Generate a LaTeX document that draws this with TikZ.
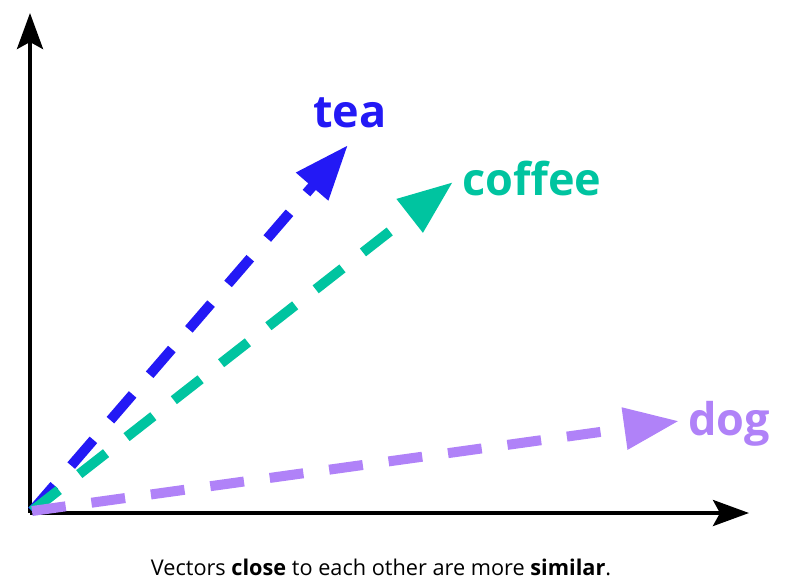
\documentclass[tikz,border=0pt]{standalone}
\usepackage{fontspec}
\setmainfont{Open Sans}
\usepackage{tikz}
\usetikzlibrary{arrows.meta,positioning}

\definecolor{teablue}{RGB}{35,25,245}
\definecolor{coffeegreen}{RGB}{0,196,160}
\definecolor{dogpurple}{RGB}{176,130,248}

\tikzset{
    axis/.style={line width=4pt,-{Stealth[length=36pt,width=26pt,inset=7pt]}},
    vec/.style={line width=10pt,dash pattern=on 34pt off 26pt,-{Triangle[length=55pt,width=40pt]}},
    word/.style={font=\fontsize{45}{54}\selectfont\bfseries,inner sep=0pt,anchor=base west}
}

\begin{document}
\begin{tikzpicture}[x=1pt,y=-1pt]
\useasboundingbox (0,0) rectangle (808,582);
\coordinate (O) at (30,513);
\coordinate (ytip) at (30,15);
\coordinate (xtip) at (749,513);
\coordinate (vO) at (32,511);
\coordinate (teatip) at (348,145);
\coordinate (coffeetip) at (453,182);
\coordinate (dogtip) at (679,421);
\path[axis] (O) edge ([yshift=2pt]ytip);
\path[axis] (O) edge (xtip);
\path[vec,teablue] (vO) edge (teatip);
\path[vec,coffeegreen] (vO) edge (coffeetip);
\path[vec,dogpurple] (vO) edge (dogtip);
\node[word,teablue] (tea) at (313,127) {tea};
\node[word,coffeegreen] (coffee) at (462,195) {coffee};
\node[word,dogpurple] (dog) at (688,435) {dog};
\node[font=\fontsize{21.7}{26}\selectfont,anchor=base,inner sep=0pt] (caption) at (381,575)
    {Vectors \textbf{close} to each other are more \textbf{similar}.};
\end{tikzpicture}
\end{document}
